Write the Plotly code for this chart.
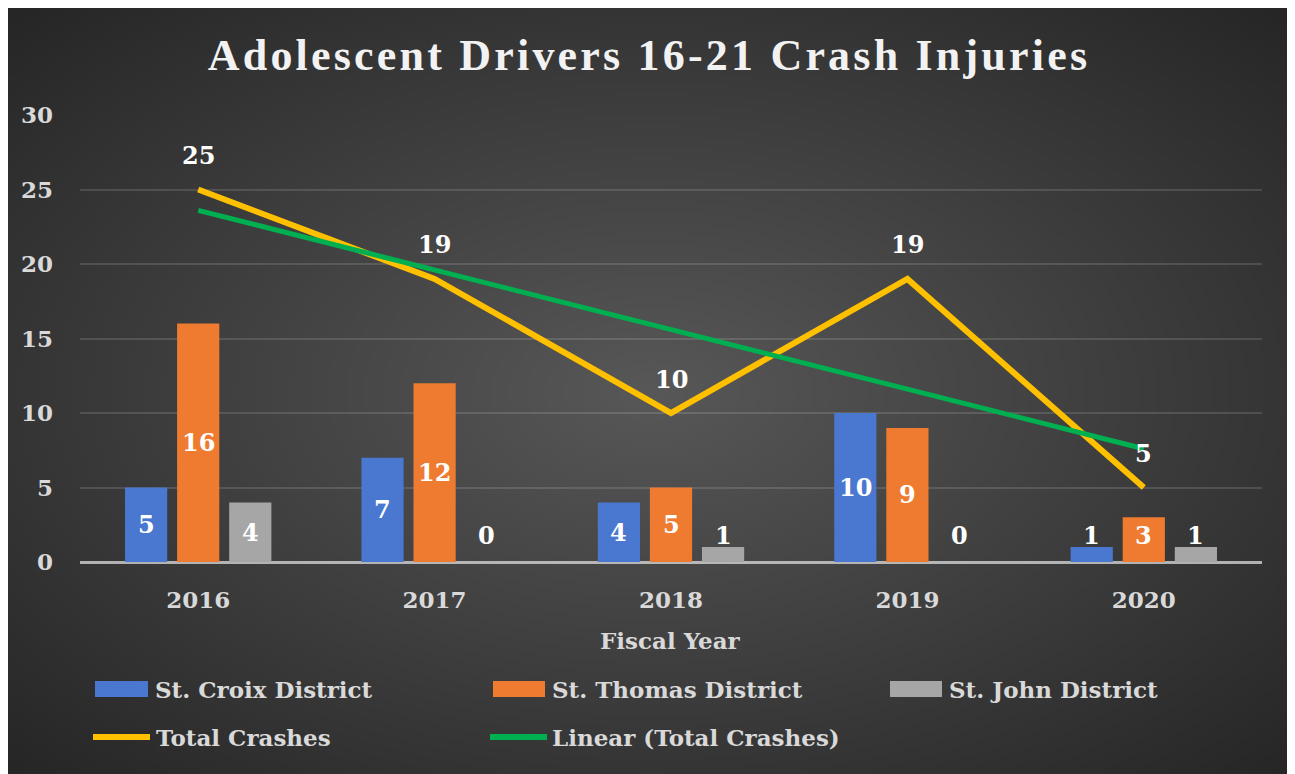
import zlib, struct, base64
import numpy as np
import plotly.graph_objects as go

# ---------------- data ----------------
years = ["2016", "2017", "2018", "2019", "2020"]
st_croix = [5, 7, 4, 10, 1]
st_thomas = [16, 12, 5, 9, 3]
st_john = [4, 0, 1, 0, 1]
total_crashes = [25, 19, 10, 19, 5]
linear_total = [23.6, 19.6, 15.6, 11.6, 7.6]   # Excel linear trendline values

series_names = ["St. Croix District", "St. Thomas District", "St. John District"]
series_values = [st_croix, st_thomas, st_john]
series_colors = ["#4A77CF", "#EE7B30", "#A6A6A6"]
title_text = "Adolescent Drivers 16-21 Crash Injuries"
x_title = "Fiscal Year"

# ---------------- geometry (page has an 8px body margin) ----------------
OFF = 8
W, H = 1290 - OFF, 774 - OFF
L, R, T, B = 80 - OFF, 1262 - OFF, 115 - OFF, 562 - OFF
FONT = "DejaVu Serif"


def px_x(p):
    return (p - OFF - L) / (R - L)


def px_y(p):
    return (B - (p - OFF)) / (B - T)


# ---------------- background gradient image ----------------
def png_data_uri(arr):
    h, w, _ = arr.shape
    raw = b"".join(b"\x00" + arr[y].tobytes() for y in range(h))

    def chunk(tag, data):
        c = struct.pack(">I", len(data)) + tag + data
        return c + struct.pack(">I", zlib.crc32(tag + data) & 0xFFFFFFFF)

    png = (b"\x89PNG\r\n\x1a\n"
           + chunk(b"IHDR", struct.pack(">IIBBBBB", w, h, 8, 2, 0, 0, 0))
           + chunk(b"IDAT", zlib.compress(raw, 9))
           + chunk(b"IEND", b""))
    return "data:image/png;base64," + base64.b64encode(png).decode()


gw, gh = 320, 190
yy, xx = np.mgrid[0:gh, 0:gw]
dx = (xx - gw * 0.5) / (gw * 0.5)
dy = (yy - gh * 0.5) / (gh * 0.5)
r = np.clip(np.sqrt(dx ** 2 + dy ** 2) / np.sqrt(2), 0, 1)
inner, outer = 88.0, 38.0
val = inner + (outer - inner) * r
img = np.repeat(val[:, :, None], 3, axis=2).astype(np.uint8)
bg_uri = png_data_uri(img)

fig = go.Figure()

# bars
for name, vals, col in zip(series_names, series_values, series_colors):
    fig.add_trace(go.Bar(x=years, y=vals, name=name, marker=dict(color=col, line=dict(width=0)),
                         showlegend=False, hoverinfo="x+y+name"))

# lines
fig.add_trace(go.Scatter(x=years, y=total_crashes, mode="lines", name="Total Crashes",
                         line=dict(color="#FFC000", width=6), showlegend=False))
fig.add_trace(go.Scatter(x=years, y=linear_total, mode="lines", name="Linear (Total Crashes)",
                         line=dict(color="#00B050", width=5), showlegend=False))

annotations = []
bargap, bargroupgap = 0.339, 0.19
cat_px = (R - L) / len(years)
slot = cat_px * (1 - bargap) / 3
offsets = [-slot, 0, slot]
for vals, off in zip(series_values, offsets):
    for i, v in enumerate(vals):
        annotations.append(dict(x=i, y=max(v / 2, 1.8), xref="x", yref="y", text=str(v),
                                showarrow=False, xshift=off, yanchor="middle",
                                font=dict(family=FONT, size=24, color="white", weight="bold")))
for i, v in enumerate(total_crashes):
    annotations.append(dict(x=i, y=v, xref="x", yref="y", text=str(v), showarrow=False, yshift=34,
                            yanchor="middle",
                            font=dict(family=FONT, size=24, color="white", weight="bold")))

# axis title
annotations.append(dict(x=px_x(670), y=px_y(640), xref="paper", yref="paper", text=x_title,
                        showarrow=False, xanchor="center", yanchor="middle",
                        font=dict(family=FONT, size=23, color="#D9D9D9", weight="bold")))

# custom legend
shapes = []
legend_rows = [
    [("rect", series_colors[0], 95, 148, series_names[0], 153),
     ("rect", series_colors[1], 493, 545, series_names[1], 550),
     ("rect", series_colors[2], 890, 942, series_names[2], 947)],
    [("line", "#FFC000", 93, 150, "Total Crashes", 154),
     ("line", "#00B050", 490, 547, "Linear (Total Crashes)", 550)],
]
row_y = [689, 737]
for row, yc in zip(legend_rows, row_y):
    for kind, col, x0, x1, label, tx in row:
        if kind == "rect":
            shapes.append(dict(type="rect", xref="paper", yref="paper", x0=px_x(x0), x1=px_x(x1),
                               y0=px_y(yc + 8), y1=px_y(yc - 8), fillcolor=col, line=dict(width=0)))
        else:
            shapes.append(dict(type="line", xref="paper", yref="paper", x0=px_x(x0), x1=px_x(x1),
                               y0=px_y(yc), y1=px_y(yc), line=dict(color=col, width=6)))
        annotations.append(dict(x=px_x(tx), y=px_y(yc), xref="paper", yref="paper", text=label,
                                showarrow=False, xanchor="left", yanchor="middle",
                                font=dict(family=FONT, size=23, color="#D9D9D9", weight="bold")))

fig.update_layout(
    width=W, height=H,
    margin=dict(l=L, r=W - R, t=T, b=H - B, pad=0, autoexpand=False),
    paper_bgcolor="#303030",
    plot_bgcolor="rgba(0,0,0,0)",
    barmode="group", bargap=bargap, bargroupgap=bargroupgap,
    showlegend=False,
    title=dict(text='<span style="letter-spacing:3.2px">' + title_text + '</span>',
               x=0.5, xref="container", y=1 - (55 - OFF) / H, yref="container",
               xanchor="center", yanchor="middle",
               font=dict(family="Liberation Serif", size=44, color="#F2F2F2", weight="bold")),
    xaxis=dict(type="category", showgrid=False, showline=False, ticks="", zeroline=False,
               automargin=False, range=[-0.5, len(years) - 0.5],
               tickfont=dict(family=FONT, size=23, color="#D9D9D9", weight="bold"),
               ticklabelstandoff=22),
    yaxis=dict(range=[0, 30], dtick=5, showgrid=True, gridcolor="rgba(255,255,255,0.13)",
               gridwidth=2, zeroline=True, zerolinecolor="rgba(220,220,220,0.75)", zerolinewidth=3,
               showline=False, ticks="", ticklabelstandoff=26, automargin=False,
               tickfont=dict(family=FONT, size=23, color="#D9D9D9", weight="bold")),
    images=[dict(source=bg_uri, xref="paper", yref="paper", x=-L / (R - L), y=1 + T / (B - T),
                 sizex=W / (R - L), sizey=H / (B - T), sizing="stretch",
                 xanchor="left", yanchor="top", layer="below")],
    shapes=shapes,
    annotations=annotations,
)

fig.write_html("out.html")
